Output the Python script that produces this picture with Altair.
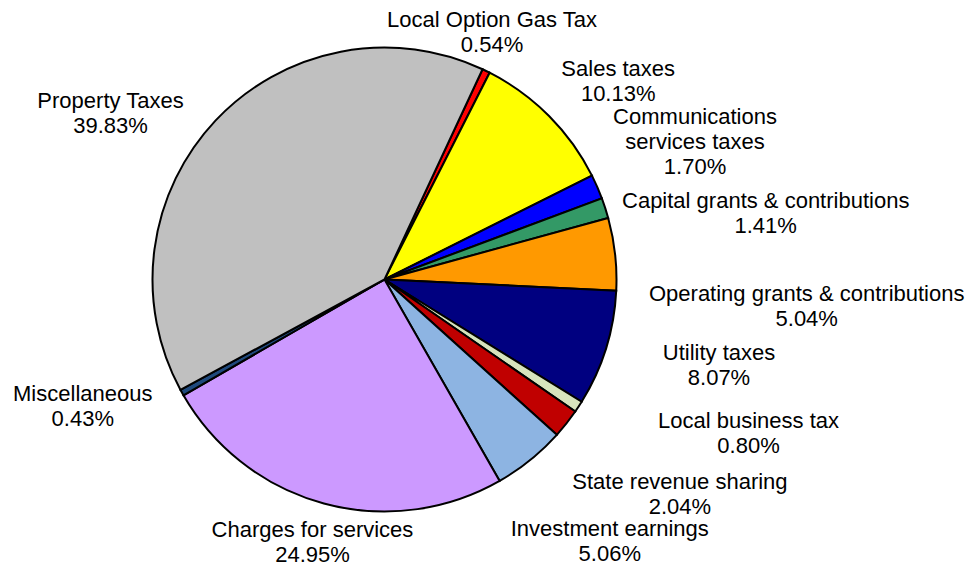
import math
import altair as alt
import pandas as pd

# ---------------- data ----------------
categories = [
    "Local Option Gas Tax",
    "Sales taxes",
    "Communications services taxes",
    "Capital grants & contributions",
    "Operating grants & contributions",
    "Utility taxes",
    "Local business tax",
    "State revenue sharing",
    "Investment earnings",
    "Charges for services",
    "Miscellaneous",
    "Property Taxes",
]
percents = [0.54, 10.13, 1.70, 1.41, 5.04, 8.07, 0.80, 2.04, 5.06, 24.95, 0.43, 39.83]

# ---------------- style ----------------
colors = [
    "#FF0000", "#FFFF00", "#0000FF", "#339966", "#FF9900", "#000080",
    "#D7E4BD", "#C00000", "#8DB4E2", "#CC99FF", "#1F497D", "#C0C0C0",
]
line_breaks = {"Communications services taxes": "Communications\nservices taxes"}

# ---------------- layout ----------------
START_DEG = 25.0          # first slice angle (clockwise from 12 o'clock)
CX, CY, R = 376.5, 271.5, 232
LINE_H = 25
# label placement: angular shift from slice middle (deg) and distance from centre (px)
label_shift = [-2.5, 4.4, -0.5, 8.0, 9.8, -3.1, -10.4, -2.4, -1.9, 0.2, 6.5, -11.9]
label_radius = [270, 307, 340, 387, 423, 345, 395, 365, 345, 272, 327, 321]

df = pd.DataFrame({
    "idx": list(range(len(categories))),
    "cat": categories,
    "pct": percents,
    "label": [f"{line_breaks.get(c, c)}\n{p:.2f}%" for c, p in zip(categories, percents)],
    "shift": label_shift,
    "lr": label_radius,
})

start = math.radians(START_DEG)

base = alt.Chart(df)

pie = base.mark_arc(radius=R, stroke="black", strokeWidth=2).encode(
    theta=alt.Theta("pct:Q", stack=True,
                    scale=alt.Scale(range=[start, start + 2 * math.pi])),
    order=alt.Order("idx:Q"),
    color=alt.Color("cat:N", scale=alt.Scale(domain=categories, range=colors), legend=None),
    x=alt.value(CX),
    y=alt.value(CY),
)

labels = base.transform_window(
    cum="sum(pct)", sort=[alt.SortField("idx")]
).transform_joinaggregate(
    total="sum(pct)"
).transform_calculate(
    ang=f"({START_DEG} + (datum.cum - datum.pct / 2) * 360 / datum.total + datum.shift) * PI / 180",
    nl="length(split(datum.label, '\\n'))",
).transform_calculate(
    lx=f"{CX} + datum.lr * sin(datum.ang)",
    ly=f"{CY} - datum.lr * cos(datum.ang) + 1 - (datum.nl - 1) * {LINE_H} / 2",
).mark_text(
    font="Liberation Sans", fontSize=22, color="black", lineBreak="\n",
    lineHeight=LINE_H, align="center", baseline="middle",
).encode(
    x=alt.X("lx:Q", scale=None, axis=None),
    y=alt.Y("ly:Q", scale=None, axis=None),
    text="label:N",
)

chart = alt.layer(pie, labels).properties(
    width=958, height=558, padding=0,
    autosize=alt.AutoSizeParams(type="none"),
    background="white",
).configure_view(stroke=None)

chart.save("out.html", embed_options={"renderer": "svg", "actions": False})
